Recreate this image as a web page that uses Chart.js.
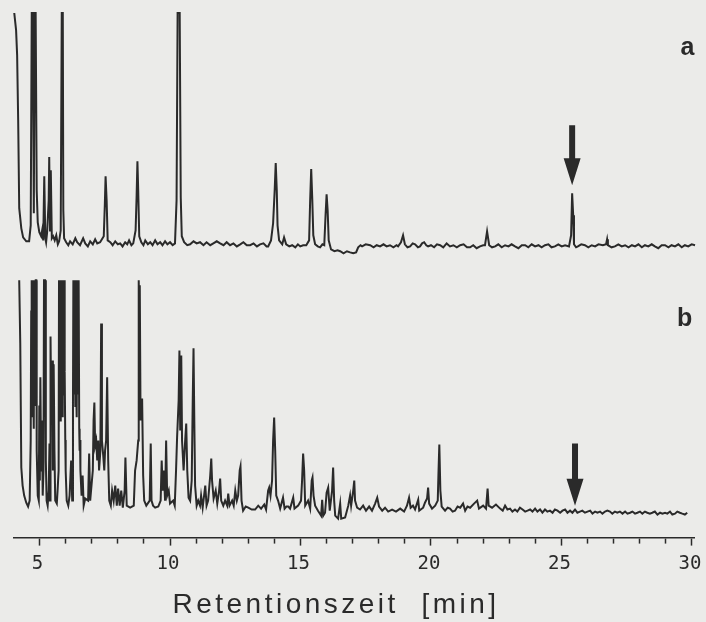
<!DOCTYPE html>
<html>
<head>
<meta charset="utf-8">
<script src="https://cdn.jsdelivr.net/npm/chart.js@4.4.1/dist/chart.umd.min.js"></script>
<style>
  html, body { margin: 0; padding: 0; background: #ebebe9; }
  #wrap { width: 706px; height: 622px; }
</style>
</head>
<body>
<div id="wrap"><canvas id="c" width="706" height="622"></canvas></div>
<script>
// Retention time (min) and detector signal (% of full scale) for trace a
const traceA_t = [4.03,4.10,4.14,4.18,4.22,4.30,4.37,4.49,4.60,4.66,4.70,4.74,4.78,4.81,4.85,4.89,4.93,4.99,5.06,5.10,5.14,5.18,5.22,5.25,5.29,5.35,5.37,5.40,5.43,5.47,5.52,5.58,5.64,5.70,5.75,5.81,5.85,5.89,5.91,5.94,6.02,6.10,6.17,6.27,6.37,6.44,6.55,6.67,6.75,6.85,6.94,7.04,7.13,7.21,7.32,7.46,7.50,7.53,7.57,7.61,7.71,7.80,7.90,8.00,8.09,8.18,8.28,8.36,8.43,8.52,8.59,8.68,8.72,8.75,8.78,8.82,8.90,8.98,9.05,9.15,9.24,9.33,9.43,9.52,9.62,9.71,9.81,9.90,10.00,10.10,10.19,10.25,10.29,10.37,10.41,10.45,10.54,10.66,10.77,10.90,11.02,11.15,11.28,11.40,11.54,11.66,11.79,11.92,12.05,12.17,12.30,12.43,12.56,12.69,12.81,12.94,13.07,13.20,13.33,13.45,13.58,13.70,13.76,13.87,13.95,14.01,14.05,14.09,14.12,14.18,14.30,14.37,14.45,14.57,14.68,14.80,14.90,14.99,15.10,15.22,15.33,15.37,15.41,15.45,15.49,15.56,15.66,15.75,15.84,15.91,15.96,16.00,16.04,16.08,16.17,16.30,16.42,16.52,16.65,16.78,16.90,17.02,17.13,17.21,17.30,17.36,17.50,17.67,17.80,17.92,18.05,18.18,18.30,18.43,18.56,18.68,18.74,18.85,18.93,19.00,19.10,19.20,19.30,19.39,19.50,19.58,19.66,19.74,19.82,19.89,20.00,20.12,20.23,20.35,20.47,20.60,20.73,20.86,20.99,21.12,21.25,21.38,21.50,21.62,21.75,21.88,22.00,22.07,22.15,22.23,22.34,22.46,22.58,22.71,22.84,22.97,23.09,23.22,23.35,23.48,23.61,23.73,23.86,23.99,24.12,24.24,24.37,24.50,24.62,24.75,24.88,25.01,25.14,25.29,25.37,25.41,25.45,25.48,25.56,25.63,25.76,25.90,26.03,26.16,26.29,26.42,26.59,26.71,26.75,26.78,26.92,27.05,27.18,27.31,27.44,27.57,27.70,27.82,27.95,28.08,28.20,28.33,28.46,28.58,28.71,28.84,28.97,29.10,29.22,29.35,29.48,29.61,29.73,29.86,29.99,30.12];
const traceA_v = [100,92.6,81.8,53.7,15.6,6.9,3.0,1.3,1.3,8.2,100,100,13.4,100,100,23.4,9.5,5.2,3.5,6.1,1.7,29.4,2.6,0.9,5.2,19.0,37.7,6.0,32.0,2.6,3.5,1.7,3.9,0,1.3,6.0,100,100,14.7,2.6,0.9,-0.4,1.3,0,2.6,0.9,-0.4,2.6,0.4,-0.9,1.3,0,2.2,0.4,0.9,3.5,16.9,29.4,19.0,1.7,0.9,-0.4,1.3,0,0.4,-0.9,0.9,0,1.7,-0.4,0.4,6.0,21.2,35.9,23.4,3.5,0.9,-0.4,1.7,0,0.9,-0.4,1.7,0,0.9,-0.4,1.3,0,0.9,-0.4,0.4,19.0,100,100,20.3,3.5,0.9,-0.4,0,1.3,0.4,0.9,-0.4,0.9,-0.4,0.4,1.3,0.4,-0.4,0.9,-0.4,0.4,-0.9,0,0.9,-0.4,-0.4,0.4,-0.9,0,0.4,-0.9,-0.9,1.7,9.1,23.4,35.1,23.4,8.2,1.7,0,3.0,0,-0.9,-0.4,-1.3,0,-0.9,-0.4,-0.4,1.7,19.0,32.5,19.9,3.9,0,-0.9,-1.3,0,-0.4,12.6,21.6,14.7,1.7,-2.2,-3.0,-2.6,-3.0,-3.9,-3.0,-3.5,-3.9,-3.5,-1.3,-0.4,-0.9,0,-0.4,-1.3,-0.4,-0.9,0,-0.9,-0.4,-1.3,-0.4,-0.9,0.9,3.9,0,-1.3,-0.9,0.4,0,-1.3,-0.9,0.4,0.9,-0.4,-0.9,-0.4,-1.3,0,-0.4,-1.3,0.4,-0.9,-0.4,-1.3,-0.4,0,-1.3,-1.3,-0.4,-1.7,-0.9,-0.4,-0.4,5.6,-0.4,-1.3,-0.9,0,-1.3,-0.4,-0.9,0,-0.9,-1.7,-0.4,-0.4,-1.3,0,-0.9,-0.4,-1.3,-0.4,0,-1.3,-0.9,0,-0.9,-0.4,-0.9,3.9,22.1,12.6,0,-1.3,-0.9,0,-0.4,-1.3,-0.4,-0.9,0,-0.4,0,2.2,-0.4,-1.3,-0.9,0,-0.9,-0.4,-1.3,-0.4,-0.9,0,-1.3,-0.4,-0.9,0,-0.9,-1.7,-0.4,-0.4,-1.3,-0.4,-0.9,0,-1.3,-0.4,-0.9,0,-0.4];

// Retention time (min) and detector signal (% of full scale) for trace b
const traceB_t = [4.22,4.26,4.30,4.35,4.41,4.49,4.56,4.62,
  4.66,4.68,4.69,4.705,4.715,4.73,4.745,4.76,4.77,4.785,4.80,4.815,4.83,4.845,4.86,4.875,4.89,
  4.93,4.97,4.99,5.01,5.03,5.06,5.09,5.12,5.15,5.17,5.21,5.24,5.27,5.31,5.35,5.38,5.40,5.42,5.45,5.48,5.51,5.54,5.57,5.60,5.66,5.69,
  5.73,5.745,5.76,5.775,5.79,5.805,5.82,5.835,5.85,5.865,5.88,5.895,5.91,5.925,5.94,5.955,5.97,5.985,6.00,
  6.04,6.10,6.15,6.21,6.25,
  6.28,6.295,6.31,6.325,6.34,6.355,6.37,6.385,6.40,6.415,6.43,6.445,6.46,6.475,6.49,6.505,6.52,6.535,6.55,6.565,
  6.61,6.65,6.69,6.75,6.86,6.90,6.94,7.04,7.07,7.10,7.13,7.17,7.21,7.25,7.28,7.33,7.36,7.39,7.44,7.48,7.51,7.55,7.59,7.63,7.67,7.73,7.78,7.84,7.90,7.96,8.01,8.07,8.13,8.19,8.26,8.29,8.34,8.47,8.61,8.66,8.72,8.78,8.80,8.82,8.84,8.87,8.93,8.97,9.01,9.09,9.22,9.26,9.29,9.35,9.43,9.55,9.64,9.68,9.72,9.76,9.81,9.85,9.89,9.95,10.00,10.12,10.18,10.23,10.27,10.33,10.36,10.39,10.43,10.46,10.52,10.58,10.62,10.66,10.71,10.77,10.83,10.87,10.90,10.93,10.96,11.02,11.08,11.15,11.19,11.25,11.35,11.40,11.46,11.54,11.58,11.61,11.67,11.75,11.81,11.88,11.92,11.96,12.04,12.11,12.19,12.23,12.28,12.38,12.44,12.50,12.56,12.61,12.67,12.70,12.74,12.80,12.90,13.00,13.13,13.26,13.38,13.49,13.61,13.68,13.76,13.80,13.85,13.91,13.95,13.99,14.03,14.07,14.14,14.22,14.33,14.39,14.46,14.53,14.60,14.72,14.77,14.91,15.02,15.06,15.10,15.14,15.18,15.29,15.37,15.43,15.46,15.50,15.56,15.67,15.79,15.83,15.87,15.94,16.00,16.06,16.12,16.21,16.25,16.29,16.33,16.44,16.52,16.56,16.71,16.83,16.90,16.94,17.02,17.06,17.09,17.17,17.28,17.40,17.51,17.63,17.74,17.86,17.94,18.01,18.13,18.24,18.36,18.51,18.66,18.82,18.97,19.08,19.16,19.22,19.31,19.39,19.51,19.55,19.70,19.77,19.85,19.89,19.93,20.04,20.16,20.26,20.29,20.32,20.36,20.41,20.54,20.64,20.73,20.83,20.92,21.02,21.12,21.23,21.31,21.40,21.50,21.65,21.77,21.84,22.00,22.11,22.17,22.21,22.34,22.49,22.65,22.75,22.84,22.93,23.03,23.12,23.22,23.31,23.41,23.51,23.61,23.70,23.80,23.89,23.99,24.08,24.18,24.27,24.37,24.46,24.56,24.66,24.75,24.85,24.95,25.04,25.14,25.23,25.33,25.42,25.52,25.61,25.71,25.80,25.90,26.00,26.10,26.19,26.29,26.38,26.48,26.57,26.67,26.76,26.86,26.95,27.05,27.14,27.24,27.34,27.44,27.53,27.63,27.72,27.82,27.91,28.01,28.10,28.20,28.29,28.39,28.48,28.58,28.68,28.78,28.87,28.97,29.06,29.16,29.25,29.35,29.44,29.54,29.63,29.73,29.82,29.92,30.04];
const traceB_v = [100,72.4,18.0,10.1,5.7,2.6,0.9,3.5,
  29.8,86.8,100,60,100,40,100,55,100,35,100,50,100,45,100,100,25.4,
  5.7,3.5,45.2,12.3,57.5,16.7,38.6,5.7,16.7,100,100,21.1,3.5,1.3,7.9,28.5,3.5,75.4,38.6,64.9,16.7,63.2,25.4,3.5,2.2,7.9,
  16.7,100,45,100,38.6,100,60,100,56.1,100,40,100,50,100,70,100,60,30,16.7,
  3.5,1.3,5.7,21.1,3.5,
  47.4,100,50,100,60,100,45,100,55,100,40,100,65,100,50,100,35,25.4,30,16.7,
  5.7,14.5,1.3,4.4,3.5,24.1,3.5,16.7,38.6,46.5,27.6,29.8,21.1,29.8,16.7,25.4,81.1,29.8,23.2,16.7,25.4,29.8,57.5,21.1,3.5,1.3,7.9,3.5,10.1,1.3,8.8,1.3,7.9,0.4,7.9,22.4,1.3,0.4,1.3,16.7,21.1,29.8,100,80,97.8,38.6,48.2,14.5,3.5,1.3,3.5,28.5,3.5,1.3,0.4,0.9,3.5,21.1,7.9,16.7,3.5,29.8,5.7,7.9,2.2,3.5,1.3,16.7,31.1,47.4,69.3,34.2,67.1,29.8,16.7,29.8,37.3,16.7,4.8,3.5,12.3,47.4,70.2,38.6,10.1,1.3,3.5,1.3,5.7,0.4,10.1,1.3,3.5,14.5,21.9,12.3,4.4,7.9,2.2,7.9,13.2,3.5,1.3,3.5,1.3,6.6,1.3,3.5,1.3,7.9,3.5,5.7,16.7,18.4,3.5,-0.9,0.9,0.4,-0.4,-0.4,1.3,0,1.8,-0.4,7.9,9.2,5.7,12.3,29.8,39.9,25.4,5.7,3.5,0,4.8,0,0.9,0.9,0,4.8,0,1.3,3.5,12.3,24.1,16.7,1.3,3.5,0,12.3,13.6,5.7,1.3,-0.9,-3.1,3.9,-3.1,-1.8,7.0,9.2,-0.9,7.9,18.0,3.5,-3.1,-4.4,2.2,-4.4,-3.9,1.3,5.7,1.3,7.9,12.3,3.5,0.4,-0.4,1.3,-0.9,0.9,-0.9,2.2,4.8,0.9,-0.9,0.4,-1.3,-0.4,-1.3,0,-1.3,1.3,4.8,0.4,1.3,-0.4,3.9,-0.9,0.4,2.6,4.4,9.2,2.2,0,1.3,3.5,16.7,28.1,7.9,0.9,-0.9,0.4,0,-1.3,-0.9,0.9,0.4,2.2,-0.9,0.9,0.4,2.2,3.5,0,1.3,0,8.8,1.3,0.4,1.8,0,-0.9,1.3,-0.4,0,-1.3,-0.4,-1.3,0.4,-0.4,-1.3,-0.9,-0.4,-1.3,0,-1.3,-0.4,-1.8,-0.4,-1.3,-0.9,-1.8,-0.4,-0.9,-1.8,-0.9,-0.4,-1.8,-0.9,-1.8,-0.4,-1.8,-1.3,-0.9,-1.8,-1.3,-0.9,-2.2,-1.3,-1.8,-1.3,-2.2,-1.3,-0.9,-1.3,-2.2,-1.3,-1.8,-1.3,-2.2,-1.3,-2.2,-1.8,-1.3,-2.2,-1.8,-1.3,-2.2,-1.3,-1.8,-2.2,-1.8,-1.3,-2.6,-1.8,-2.2,-1.8,-2.2,-1.3,-2.6,-2.2,-1.3,-1.8,-2.2,-2.6,-1.8];

// X axis tick labels (minutes)
const tickLabels = [5, 10, 15, 20, 25, 30];

// Marked peak (arrows): retention time, arrow top and tip (signal %)
const arrowTrace = ['ya', 'yb'];
const arrowTime = [25.41, 25.52];
const arrowTop = [51.5, 28.5];
const arrowTip = [25.5, 1.3];

// Trace labels
const traceNames = ['a', 'b'];
const traceLabelTime = [29.83, 29.72];
const traceLabelValue = [85.3, 83.3];

const INK = '#2a2a2a';

const toPoints = (ts, vs) => ts.map((t, i) => ({ x: t, y: vs[i] }));

const annotate = {
  id: 'annotate',
  beforeDraw(chart) {
    const s = chart.scales.x;
    if (!s._lsWrapped) {
      const orig = s.drawTitle;
      s.drawTitle = function () {
        const c = this.ctx;
        c.save();
        c.letterSpacing = '3.5px';
        c.translate(-18, 0);
        orig.apply(this, arguments);
        c.restore();
      };
      s._lsWrapped = true;
    }
  },
  afterDatasetsDraw(chart) {
    const ctx = chart.ctx;
    const xs = chart.scales.x;
    ctx.save();
    ctx.fillStyle = INK;
    for (let i = 0; i < arrowTime.length; i++) {
      const ys = chart.scales[arrowTrace[i]];
      const x = xs.getPixelForValue(arrowTime[i]);
      const yT = ys.getPixelForValue(arrowTop[i]);
      const yP = ys.getPixelForValue(arrowTip[i]);
      const head = 27, hw = 8.5, sw = 3;
      ctx.beginPath();
      ctx.moveTo(x - sw, yT);
      ctx.lineTo(x + sw, yT);
      ctx.lineTo(x + sw, yP - head);
      ctx.lineTo(x + hw, yP - head);
      ctx.lineTo(x, yP);
      ctx.lineTo(x - hw, yP - head);
      ctx.lineTo(x - sw, yP - head);
      ctx.closePath();
      ctx.fill();
    }
    ctx.font = 'bold 25px "Liberation Sans Narrow", "Liberation Sans", Arial, sans-serif';
    ctx.textAlign = 'center';
    ctx.textBaseline = 'alphabetic';
    for (let i = 0; i < traceNames.length; i++) {
      const ys = chart.scales[arrowTrace[i]];
      ctx.fillText(traceNames[i], xs.getPixelForValue(traceLabelTime[i]), ys.getPixelForValue(traceLabelValue[i]) + 8);
    }
    ctx.restore();
  }
};

new Chart(document.getElementById('c'), {
  type: 'scatter',
  data: {
    datasets: [
      { label: 'a', data: toPoints(traceA_t, traceA_v), yAxisID: 'ya', showLine: true, borderColor: INK, borderWidth: 2, pointRadius: 0, tension: 0, clip: false },
      { label: 'b', data: toPoints(traceB_t, traceB_v), yAxisID: 'yb', showLine: true, borderColor: INK, borderWidth: 2, pointRadius: 0, tension: 0, clip: false }
    ]
  },
  options: {
    responsive: false,
    animation: false,
    devicePixelRatio: 1,
    layout: { padding: { left: 14, right: 12, top: 13, bottom: 0 } },
    plugins: { legend: { display: false }, tooltip: { enabled: false } },
    scales: {
      x: {
        type: 'linear',
        min: 4.02,
        max: 30.08,
        grid: {
          drawOnChartArea: false,
          drawTicks: true,
          tickLength: 15,
          tickColor: INK,
          tickWidth: 1.5,
          tickBorderDash: (c) => (tickLabels.includes(c.tick && c.tick.value) ? [7, 40] : [5, 40])
        },
        border: { display: true, color: INK, width: 1.6 },
        ticks: {
          stepSize: 1,
          includeBounds: false,
          autoSkip: false,
          maxRotation: 0,
          padding: 0,
          labelOffset: -2,
          color: INK,
          font: { family: '"DejaVu Sans Mono", "Liberation Mono", monospace', size: 19 },
          callback: (v) => (tickLabels.includes(v) ? String(v) : '')
        },
        title: {
          display: true,
          text: 'Retentionszeit  [min]',
          color: INK,
          font: { family: '"Liberation Sans", Arial, sans-serif', size: 28 },
          padding: { top: 13, bottom: 0 }
        }
      },
      ya: { type: 'linear', display: false, min: -126.8, max: 100 },
      yb: { type: 'linear', display: false, min: -12.7, max: 217.1 }
    }
  },
  plugins: [annotate]
});
</script>
</body>
</html>
